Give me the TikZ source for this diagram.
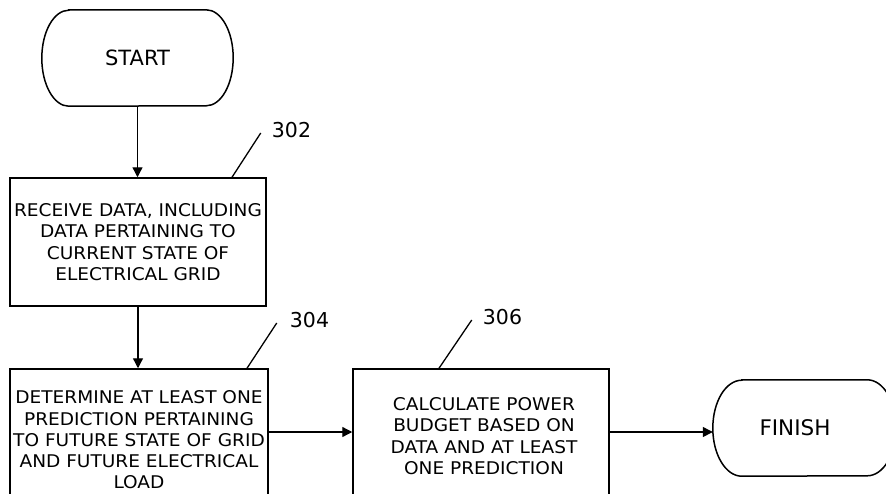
\documentclass[tikz,border=0pt]{standalone}
\usepackage{fontspec}
\setmainfont{DejaVu Sans}
\newfontfamily\boxfont[FakeStretch=1.06]{DejaVu Sans}
\usetikzlibrary{arrows.meta}
\begin{document}
\begin{tikzpicture}[x=1pt,y=1pt,
  box/.style={draw, line width=1.5pt, inner sep=0pt, align=center,
    font=\boxfont\fontsize{17.5}{21.3}\selectfont},
  conn/.style={line width=1.3pt, -{Triangle[length=10pt,width=10pt]}},
  lead/.style={line width=1.3pt},
  lbl/.style={inner sep=0pt, font=\fontsize{20.5}{24}\selectfont},
  term/.style={inner sep=0pt, minimum height=96pt},
  termline/.style={line width=1.5pt}]
\useasboundingbox (0,0) rectangle (886,-493);
\clip (0,0) rectangle (886,-493);

% terminals
\node[term, minimum width=191pt, font=\fontsize{21}{24}\selectfont] (start) at (137.5,-58) {START};
\draw[termline] ([xshift=27pt]start.north west) -- ([xshift=-27pt]start.north east)
  arc[start angle=90,end angle=-90,x radius=27pt,y radius=48pt]
  -- ([xshift=27pt]start.south west)
  arc[start angle=270,end angle=90,x radius=27pt,y radius=48pt] -- cycle;

\node[term, minimum width=183pt] (finish) at (804.5,-428) {};
\node[lbl, font=\fontsize{21.5}{24}\selectfont] (finishtext) at ([xshift=-9.5pt]finish.center) {FINISH};
\draw[termline] ([xshift=29pt]finish.north west) -- ([xshift=-29pt]finish.north east)
  arc[start angle=90,end angle=-90,x radius=29pt,y radius=48pt]
  -- ([xshift=29pt]finish.south west)
  arc[start angle=270,end angle=90,x radius=29pt,y radius=48pt] -- cycle;

% process boxes
\node[box, minimum width=256pt, minimum height=128pt] (b302) at (138,-242)
  {RECEIVE DATA, INCLUDING\\DATA PERTAINING TO\\CURRENT STATE OF\\ELECTRICAL GRID};
\node[box, minimum width=258pt, minimum height=142pt] (b304) at (139,-440)
  {DETERMINE AT LEAST ONE\\PREDICTION PERTAINING\\TO FUTURE STATE OF GRID\\AND FUTURE ELECTRICAL\\LOAD};
\node[box, minimum width=256pt, minimum height=134pt] (b306) at (481,-436)
  {\hspace*{6pt}CALCULATE POWER\\\hspace*{6pt}BUDGET BASED ON\\\hspace*{6pt}DATA AND AT LEAST\\\hspace*{6pt}ONE PREDICTION};

% reference labels
\node[lbl] (l302) at (291.5,-130) {302};
\node[lbl] (l304) at (309.5,-320.5) {304};
\node[lbl] (l306) at (502.5,-317.5) {306};

\draw[lead] ([xshift=94pt]b302.north) -- ([xshift=-11pt,yshift=-3pt]l302.west);
\draw[lead] ([xshift=108pt]b304.north) -- ([xshift=-13pt,yshift=-2.5pt]l304.west);
\draw[lead] ([xshift=-42pt]b306.north) -- ([xshift=-11pt,yshift=-2.5pt]l306.west);

% connectors
\draw[conn] (start.south) -- (start.south |- b302.north);
\draw[conn] (b302.south) -- (b302.south |- b304.north);
\draw[conn] ([yshift=8pt]b304.east) -- ([yshift=8pt]b304.east -| b306.west);
\draw[conn] ([yshift=4pt]b306.east) -- ([yshift=4pt]b306.east -| finish.west);
\end{tikzpicture}
\end{document}
